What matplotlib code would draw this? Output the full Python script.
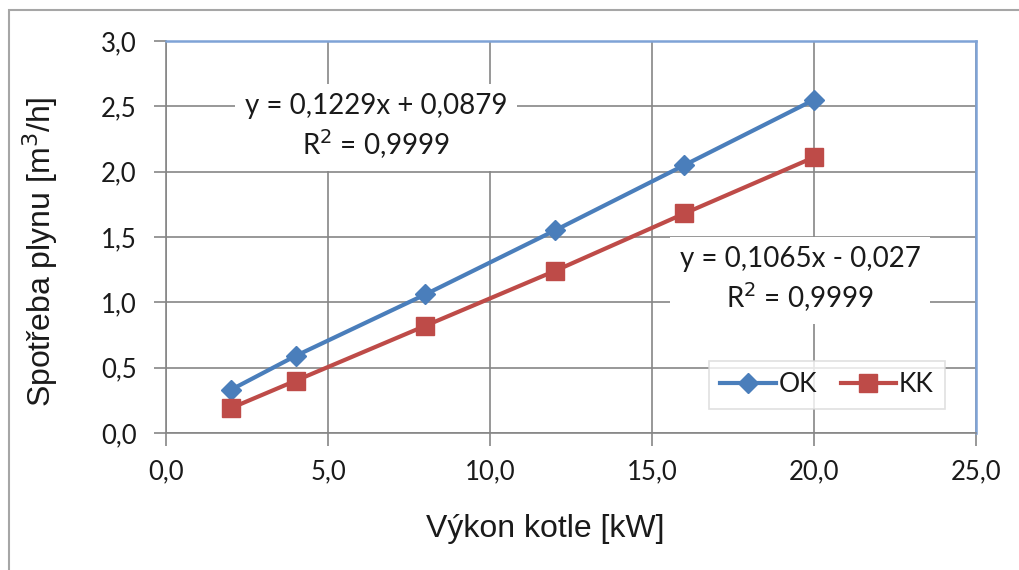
import matplotlib
matplotlib.use("Agg")
import matplotlib.pyplot as plt
from matplotlib.patches import Rectangle
from matplotlib.ticker import FuncFormatter, MultipleLocator

# Data
power_kw = [2, 4, 8, 12, 16, 20]
ok_values = [0.33, 0.59, 1.06, 1.55, 2.05, 2.55]
kk_values = [0.19, 0.40, 0.82, 1.24, 1.68, 2.11]
series_names = ["OK", "KK"]
eq_ok = ["y = 0,1229x + 0,0879", "R$^2$ = 0,9999"]
eq_kk = ["y = 0,1065x - 0,027", "R$^2$ = 0,9999"]
x_label = "Výkon kotle [kW]"
y_label = "Spotřeba plynu [m$^3$/h]"

W, H = 1019, 570
fig = plt.figure(figsize=(W / 100, H / 100), dpi=100)
fig.patch.set_facecolor("white")

# outer chart border
fig.patches.append(Rectangle((9 / W, -0.05), 1.2, 1 - 10 / H + 0.05,
                             transform=fig.transFigure, fill=False,
                             edgecolor="#A6A6A6", linewidth=1.5))

left, right, top, bottom = 166, 976, 41, 433
ax = fig.add_axes([left / W, 1 - bottom / H, (right - left) / W, (bottom - top) / H])

tick_family = ["Lato", "DejaVu Sans"]
label_font = ["Liberation Sans Narrow", "Liberation Sans", "DejaVu Sans"]
txt_color = "#1a1a1a"

blue = "#4A7EBB"
red = "#BE4B48"

ax.plot(power_kw, ok_values, color=blue, lw=3, marker="D", markersize=10,
        label=series_names[0], zorder=4)
ax.plot(power_kw, kk_values, color=red, lw=3, marker="s", markersize=13,
        label=series_names[1], zorder=4)

ax.set_xlim(0, 25)
ax.set_ylim(0, 3.0)
ax.xaxis.set_major_locator(MultipleLocator(5))
ax.yaxis.set_major_locator(MultipleLocator(0.5))
fmt = FuncFormatter(lambda v, p: f"{v:.1f}".replace(".", ","))
ax.xaxis.set_major_formatter(fmt)
ax.yaxis.set_major_formatter(fmt)
ax.grid(True, color="#868686", lw=1.2, zorder=0)
ax.set_axisbelow(True)
ax.tick_params(axis="both", direction="out", length=9, width=1.2, color="#868686")
ax.tick_params(axis="x", pad=10)
ax.tick_params(axis="y", pad=12)
for lab in ax.get_xticklabels() + ax.get_yticklabels():
    lab.set_fontfamily(tick_family)
    lab.set_fontsize(18.5)
    lab.set_color(txt_color)

ax.spines["left"].set_color("#868686")
ax.spines["bottom"].set_color("#868686")
ax.spines["left"].set_linewidth(1.2)
ax.spines["bottom"].set_linewidth(1.2)
ax.spines["top"].set_color("#7FA3D6")
ax.spines["right"].set_color("#7FA3D6")
ax.spines["top"].set_linewidth(1.8)
ax.spines["right"].set_linewidth(1.8)

fig.text(545 / W, 1 - 529 / H, x_label, ha="center", va="center",
         fontsize=23, family=label_font, color=txt_color)
fig.text(40 / W, 1 - 252 / H, y_label, ha="center", va="center", rotation=90,
         fontsize=23, family=label_font, color=txt_color)

bbox = dict(facecolor="white", edgecolor="none", boxstyle="square,pad=0.35")
ax.text((376 - left) / (right - left), 1 - (127 - top) / (bottom - top),
        "\n".join(eq_ok), transform=ax.transAxes, ha="center", va="center",
        fontsize=20, family=tick_family, color=txt_color,
        linespacing=1.3, bbox=bbox, zorder=3)
ax.text((800 - left) / (right - left), 1 - (280 - top) / (bottom - top),
        "\n".join(eq_kk), transform=ax.transAxes, ha="center", va="center",
        fontsize=20, family=tick_family, color=txt_color,
        linespacing=1.3, bbox=bbox, zorder=3)

leg = ax.legend(loc="center", bbox_to_anchor=((827 - left) / (right - left),
                                               1 - (385 - top) / (bottom - top)),
                ncol=2, frameon=True, fancybox=False, edgecolor="#D9D9D9",
                prop=dict(family=tick_family, size=19),
                handlelength=2.1, handletextpad=0.1, columnspacing=0.9,
                borderpad=0.45, borderaxespad=0)
leg.get_frame().set_linewidth(1.2)
for t in leg.get_texts():
    t.set_color(txt_color)

fig.savefig("out.png", dpi=100, facecolor="white")
